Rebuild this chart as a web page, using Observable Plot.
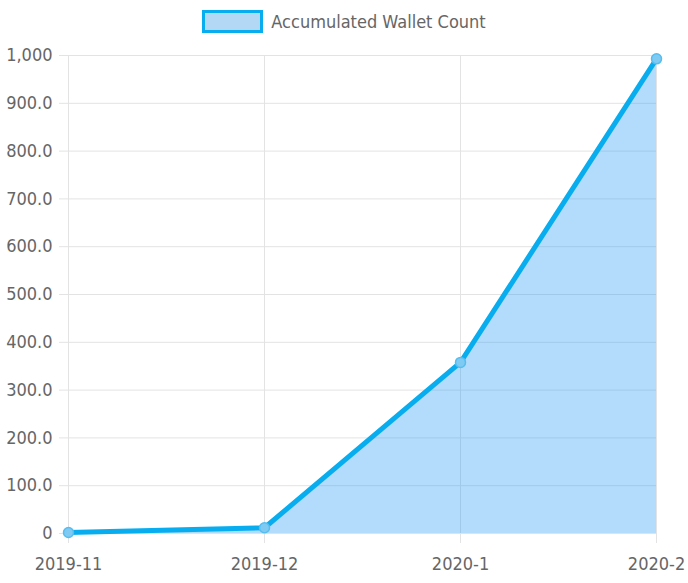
<!DOCTYPE html>
<html>
<head>
<meta charset="utf-8">
<script src="https://cdn.jsdelivr.net/npm/d3@7"></script>
<script src="https://cdn.jsdelivr.net/npm/@observablehq/plot@0.6"></script>
<style>
  html, body { margin: 0; padding: 0; background: #fff; }
  body { width: 688px; height: 583px; overflow: hidden; font-family: "DejaVu Sans Condensed", "Liberation Sans Narrow", "Arial Narrow", sans-serif; font-stretch: condensed; }
  #legend { height: 40px; display: flex; align-items: center; justify-content: center; box-sizing: border-box; }
  #legend .sw { width: 55px; height: 17px; border: 3px solid #07adef; background: #b3d8f5; margin-right: 8px; margin-top: 3px; }
  #legend .lb { font-size: 18px; color: #666; margin-top: 3px; }
  svg text { font-stretch: condensed; }
</style>
</head>
<body>
<div id="legend"><div class="sw"></div><div class="lb">Accumulated Wallet Count</div></div>
<div id="chart"></div>
<script>
const months = ["2019-11", "2019-12", "2020-1", "2020-2"];
const wallets = [2, 12, 358, 993];
const yTicks = [0, 100, 200, 300, 400, 500, 600, 700, 800, 900, 1000];
const yTickLabels = ["0", "100.0", "200.0", "300.0", "400.0", "500.0", "600.0", "700.0", "800.0", "900.0", "1,000"];

const data = months.map((m, i) => ({month: m, value: wallets[i]}));
const lineColor = "#07adef";
const gridColor = "#e3e3e3";
const fontStack = "'DejaVu Sans Condensed', 'Liberation Sans Narrow', 'Arial Narrow', sans-serif";

const chart = Plot.plot({
  width: 688,
  height: 543,
  marginLeft: 67,
  marginRight: 31,
  marginTop: 15,
  marginBottom: 50,
  style: {fontFamily: fontStack, fontSize: "18px", color: "#666", background: "#fff"},
  x: {type: "point", domain: months, padding: 0, label: null},
  y: {domain: [0, 1000], label: null},
  marks: [
    Plot.gridY(yTicks, {stroke: gridColor, strokeOpacity: 1, insetLeft: -8}),
    Plot.gridX(months, {stroke: gridColor, strokeOpacity: 1, insetBottom: -10}),
    Plot.areaY(data, {x: "month", y: "value", fill: "rgb(33,150,243)", fillOpacity: 0.34}),
    Plot.line(data, {x: "month", y: "value", stroke: lineColor, strokeWidth: 5}),
    Plot.dot(data, {x: "month", y: "value", r: 5, fill: "#7fcaf2", stroke: "#55bdf0", strokeWidth: 1.5}),
    Plot.axisY(yTicks, {label: null, tickSize: 0, tickPadding: 15, tickFormat: (d) => yTickLabels[yTicks.indexOf(d)], fill: "#666", fontSize: 18}),
    Plot.axisX(months, {label: null, tickSize: 0, tickPadding: 24, fill: "#666", fontSize: 18})
  ]
});
document.getElementById("chart").appendChild(chart);
</script>
</body>
</html>
